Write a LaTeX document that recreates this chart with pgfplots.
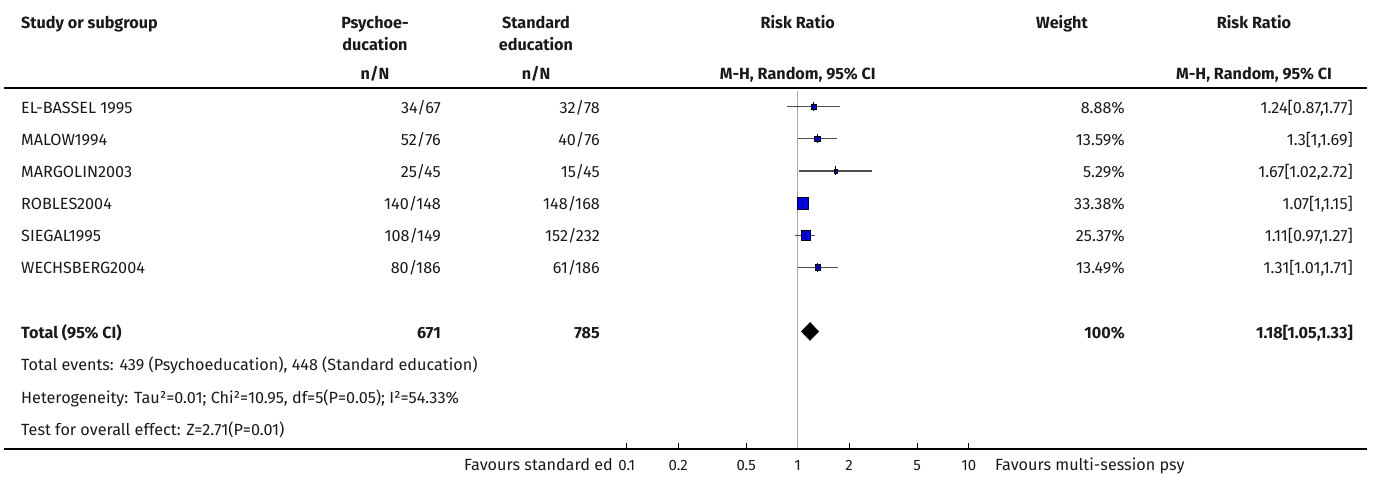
\documentclass[border=0pt]{standalone}
\usepackage{fontspec}
\setmainfont{Fira Sans}
\usepackage{pgfplots}
\usepackage{pgfplotstable}
\pgfplotsset{compat=1.18}
\definecolor{txt}{HTML}{1A1A1A}
\definecolor{ci}{HTML}{4D4D4D}
\definecolor{refl}{HTML}{A6A6A6}
\definecolor{sq}{HTML}{0000FF}

\pgfplotstableread{
row rr lo hi ms
1 1.24 0.87 1.77 2.8
2 1.30 1.00 1.69 2.8
3 1.67 1.02 2.72 1.8
4 1.07 1.00 1.15 5.7
5 1.11 0.97 1.27 4.6
6 1.31 1.01 1.71 2.8
}\studies

\newcommand{\fs}{\fontsize{16.2}{19}\selectfont}
\begin{document}
\begin{tikzpicture}[x=1pt,y=1pt,
  every node/.style={inner sep=0pt, text=txt, font=\fs, yshift=-4pt},
  L/.style={anchor=mid west}, R/.style={anchor=mid east}, C/.style={anchor=mid},
  B/.style={font=\fs\bfseries}]
\useasboundingbox (0,0) rectangle (1375,478);
\begin{axis}[at={(626.7pt,29pt)}, anchor=south west, scale only axis,
  width=342pt, height=361pt, xmode=log, xmin=0.1, xmax=10,
  ymin=0.417, ymax=11.66, y dir=reverse,
  axis line style={draw=none}, ytick=\empty,
  xtick={0.1,0.2,0.5,1,2,5,10}, xticklabels={0.1,0.2,0.5,1,2,5,10},
  xtick pos=bottom, tick align=inside, major tick length=6pt,
  xtick style={black, line width=0.8pt},
  x tick label style={font=\fontsize{15}{15}\selectfont, text=txt, anchor=mid, yshift=-15pt},
  clip=false]
  % reference line
  \addplot[refl, line width=1.5pt] coordinates {(1,0.5) (1,11.66)};
  % squares
  \addplot[scatter, only marks, mark=square*,
    scatter/use mapped color={draw=none, fill=sq},
    visualization depends on={\thisrow{ms}\as\msz},
    scatter/@pre marker code/.append style={/tikz/mark size=\msz}]
    table[x=rr, y=row] {\studies};
  % confidence intervals
  \addplot[ci, line width=1.3pt] coordinates {(0.87,1) (1.77,1)};
  \addplot[ci, line width=1.3pt] coordinates {(1.00,2) (1.69,2)};
  \addplot[ci, line width=1.3pt] coordinates {(1.02,3) (2.72,3)};
  \addplot[ci, line width=1.3pt] coordinates {(1.00,4) (1.15,4)};
  \addplot[ci, line width=1.3pt] coordinates {(0.97,5) (1.27,5)};
  \addplot[ci, line width=1.3pt] coordinates {(1.01,6) (1.71,6)};
  % point estimate ticks
  \addplot[only marks, mark=|, mark size=4.5pt, mark options={black, line width=1pt}]
    table[x=rr, y=row] {\studies};
  % total diamond
  \addplot[black, fill=black] coordinates {(1.05,8) (1.18,7.72) (1.33,8) (1.18,8.28) (1.05,8)} -- cycle;
\end{axis}

% rules
\draw[black, line width=2pt] (4,390) -- (1367,390);
\draw[black, line width=1.5pt] (4,29) -- (1367,29);

% headers
\node[L,B] at (21,456) {Study or subgroup};
\node[C,B] at (375,456) {Psychoe-};
\node[C,B] at (375,434) {ducation};
\node[C,B] at (375,405) {n/N};
\node[C,B] at (536,456) {Standard};
\node[C,B] at (536,434) {education};
\node[C,B] at (536,405) {n/N};
\node[C,B] at (797.7,456) {Risk Ratio};
\node[C,B] at (797.7,405) {M-H, Random, 95\% CI};
\node[C,B] at (1062,456) {Weight};
\node[C,B] at (1254,456) {Risk Ratio};
\node[C,B] at (1254,405) {M-H, Random, 95\% CI};

% study rows
\node[L] at (21,371.3) {EL-BASSEL 1995};
\node[L] at (21,339.2) {MALOW1994};
\node[L] at (21,307.1) {MARGOLIN2003};
\node[L] at (21,275.0) {ROBLES2004};
\node[L] at (21,242.9) {SIEGAL1995};
\node[L] at (21,210.8) {WECHSBERG2004};

\node[R] at (441,371.3) {34/67};
\node[R] at (441,339.2) {52/76};
\node[R] at (441,307.1) {25/45};
\node[R] at (441,275.0) {140/148};
\node[R] at (441,242.9) {108/149};
\node[R] at (441,210.8) {80/186};

\node[R] at (600,371.3) {32/78};
\node[R] at (600,339.2) {40/76};
\node[R] at (600,307.1) {15/45};
\node[R] at (600,275.0) {148/168};
\node[R] at (600,242.9) {152/232};
\node[R] at (600,210.8) {61/186};

\node[R] at (1125,371.3) {8.88\%};
\node[R] at (1125,339.2) {13.59\%};
\node[R] at (1125,307.1) {5.29\%};
\node[R] at (1125,275.0) {33.38\%};
\node[R] at (1125,242.9) {25.37\%};
\node[R] at (1125,210.8) {13.49\%};

\node[R] at (1353,371.3) {1.24[0.87,1.77]};
\node[R] at (1353,339.2) {1.3[1,1.69]};
\node[R] at (1353,307.1) {1.67[1.02,2.72]};
\node[R] at (1353,275.0) {1.07[1,1.15]};
\node[R] at (1353,242.9) {1.11[0.97,1.27]};
\node[R] at (1353,210.8) {1.31[1.01,1.71]};

% total row
\node[L,B] at (21,146.6) {Total (95\% CI)};
\node[R,B] at (441,146.6) {671};
\node[R,B] at (600,146.6) {785};
\node[R,B] at (1125,146.6) {100\%};
\node[R,B] at (1353,146.6) {1.18[1.05,1.33]};

\node[L] at (21,114) {Total events: 439 (Psychoeducation), 448 (Standard education)};
\node[L] at (21,81) {Heterogeneity: Tau²=0.01; Chi²=10.95, df=5(P=0.05); I²=54.33\%};
\node[L] at (21,49) {Test for overall effect: Z=2.71(P=0.01)};

\node[R] at (613,14) {Favours standard ed};
\node[L] at (995,14) {Favours multi-session psy};
\end{tikzpicture}
\end{document}
